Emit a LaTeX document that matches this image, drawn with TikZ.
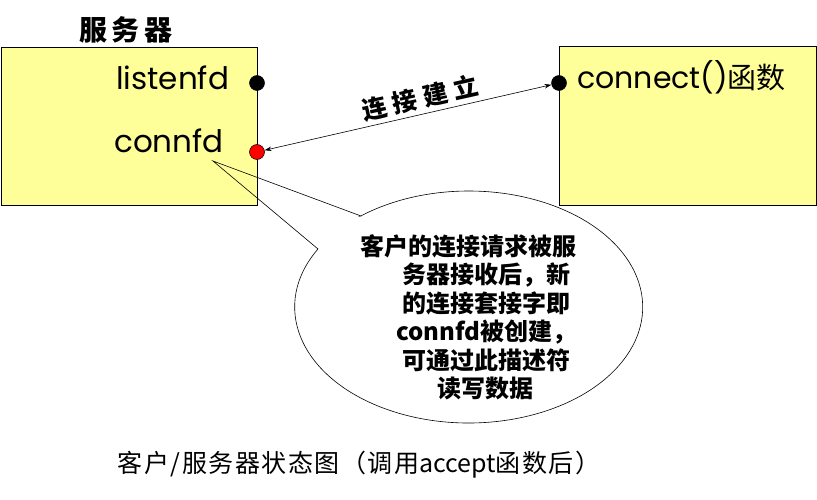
\documentclass[tikz,border=0pt]{standalone}
\usepackage{fontspec}
\setmainfont{Poppins}
\newfontfamily\cjk{Noto Sans CJK SC}
\newfontfamily\lat{Poppins}
\usetikzlibrary{arrows.meta}
\definecolor{boxyellow}{HTML}{FFFF99}
\newcommand{\gp}[1]{\hspace{#1pt}}
\tikzset{
  box/.style={draw=black, fill=boxyellow, line width=0.9pt, inner sep=0pt, anchor=north west},
  dot/.style={circle, draw=black, line width=0.5pt, inner sep=0pt, minimum size=15pt},
  fdlabel/.style={font=\lat\fontsize{31}{36}\selectfont, anchor=base west, inner sep=0pt},
  thin line/.style={draw=black, line width=0.6pt},
}
\begin{document}
\begin{tikzpicture}[x=1pt, y=-1pt]
\useasboundingbox (0,0) rectangle (817,500);
% boxes
\node[box, minimum width=256.5pt, minimum height=158pt] (srv) at (0.5,47) {};
\node[box, minimum width=257pt, minimum height=159pt] (cli) at (559,46) {};
% title
\node[font=\cjk\bfseries\fontsize{28}{32}\selectfont, inner sep=0pt] (title) at (126,30) {服\gp{4.5}务\gp{4.5}器};
% labels
\node[fdlabel] (listen) at (116,90) {listenfd};
\node[fdlabel] (conn) at (114,153) {connfd};
\node[fdlabel, font=\lat\fontsize{30}{36}\selectfont] (connect) at (577,89) {connect()\cjk\fontsize{29}{34}\selectfont 函数};
% dots
\node[dot, fill=black] (ldot) at (257,83) {};
\node[dot, fill=red] (cdot) at (257,152) {};
\node[dot, fill=black] (rdot) at (559,83) {};
% arrow
\draw[thin line, {Stealth[length=7pt,width=4.5pt]}-{Stealth[length=7pt,width=4.5pt]}] (cdot) -- (rdot);
\node[font=\cjk\bfseries\fontsize{25}{30}\selectfont, rotate=12.6, inner sep=0pt] (est) at (420,98) {连\gp{6}接\gp{6}建\gp{6}立};
% callout
\coordinate (tip) at (213,161);
\draw[thin line] (361,216) -- (tip) -- (318,249) arc[start angle=210, end angle=-128.4, x radius=174, y radius=116] -- cycle;
\node[font=\cjk\bfseries\fontsize{24}{28.5}\selectfont, align=left, anchor=north west, inner sep=0pt] (note) at (360,234) {客户的连接请求被服\\
\hspace*{42pt}务器接收后，新\\
\hspace*{42pt}的连接套接字即\\
\hspace*{36pt}connfd被创建，\\
\hspace*{42pt}可通过此描述符\\
\hspace*{77pt}读写数据};
% caption
\node[font=\cjk\fontsize{25}{30}\selectfont, inner sep=0pt] (cap) at (359,465) {客\gp{1.5}户\gp{1.5}/\gp{1.5}服\gp{1.5}务\gp{1.5}器\gp{1.5}状\gp{1.5}态\gp{1.5}图\gp{1.5}（\gp{1.5}调\gp{1.5}用accept函\gp{1.5}数\gp{1.5}后\gp{1.5}）};
\end{tikzpicture}
\end{document}
